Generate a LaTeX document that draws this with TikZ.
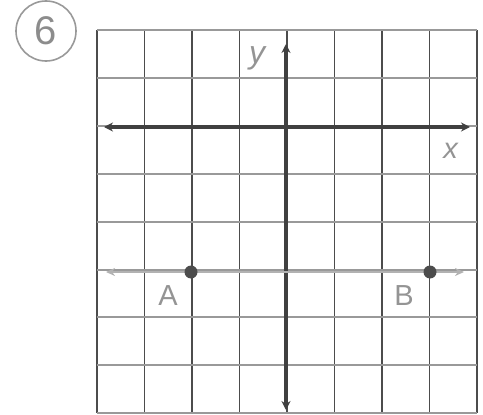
\documentclass[tikz,border=0pt]{standalone}
\usepackage{fontspec}
\setmainfont{Liberation Sans}
\usetikzlibrary{arrows.meta}
\begin{document}
\begin{tikzpicture}[x=1pt,y=-1pt,
  vline/.style={draw=black!70,line width=1.8pt},
  hline/.style={draw=black!40,line width=2pt},
  axis/.style={draw=black!75,line width=3.5pt,{Stealth[length=9pt,width=9pt]}-{Stealth[length=9pt,width=9pt]}},
  ptline/.style={draw=black!30,line width=2.2pt,{Stealth[length=9pt,width=8pt]}-{Stealth[length=9pt,width=8pt]}},
  dot/.style={circle,fill=black!70,inner sep=0pt,minimum size=13pt},
  lab/.style={text=black!42,font=\fontsize{29}{29}\selectfont,inner sep=0pt}]
\useasboundingbox (0,0) rectangle (483,415);
% frame/grid
\foreach \i in {0,...,8} {
  \draw[vline] ({97+47.5*\i},30) -- ({97+47.5*\i},413);
}
\foreach \j in {0,...,8} {
  \draw[hline] (97,{30+47.9*\j}) -- (477,{30+47.9*\j});
}
% axes
\coordinate (xl) at (104,127);
\coordinate (xr) at (470,127);
\coordinate (yt) at (286,44);
\coordinate (yb) at (286,410);
\draw[axis] (xl) -- (xr);
\draw[axis] (yb) -- (yt);
% line through A and B
\coordinate (ll) at (106,272);
\coordinate (lr) at (464,272);
\draw[ptline] (ll) -- (lr);
\node[dot] (A) at (191,272) {};
\node[dot] (B) at (430,272) {};
% labels
\node[lab,font=\fontsize{32}{32}\selectfont] (ylab) at (258,58) {\textit{y}};
\node[lab] (xlab) at (451,151) {\textit{x}};
\node[lab] (Alab) at (168,296) {A};
\node[lab] (Blab) at (404,296) {B};
% circled number
\node[circle,draw=black!40,line width=1.6pt,minimum size=60pt,inner sep=0pt,
  text=black!45,font=\fontsize{40}{40}\selectfont] (num) at (46,31) {6};
\end{tikzpicture}
\end{document}
